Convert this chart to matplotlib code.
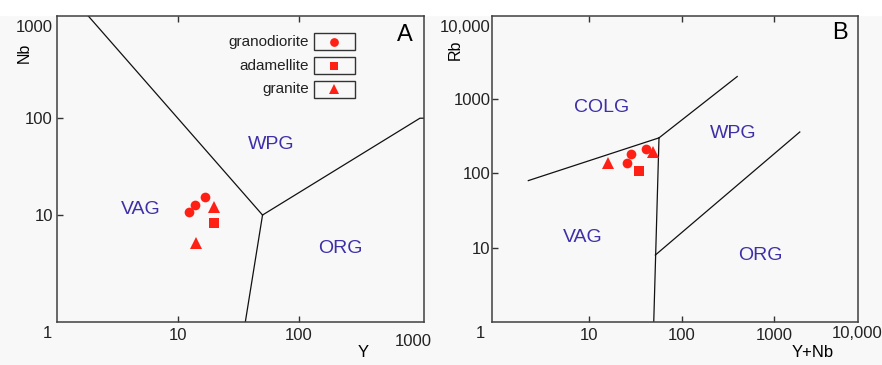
import matplotlib
matplotlib.use('Agg')
import matplotlib.pyplot as plt
from matplotlib.patches import Rectangle
from matplotlib.ticker import NullLocator

plt.rcParams['font.family'] = ['Liberation Sans', 'DejaVu Sans']

# Panel A: Nb vs Y
a_granodiorite_y = [12.3, 13.9, 16.6]
a_granodiorite_nb = [10.7, 12.7, 15.5]
a_adamellite_y = [20.0]
a_adamellite_nb = [8.3]
a_granite_y = [20.0, 14.1]
a_granite_nb = [12.1, 5.1]

# Panel B: Rb vs Y+Nb
b_granodiorite_ynb = [25.8, 28.5, 41.3]
b_granodiorite_rb = [140, 181, 211]
b_adamellite_ynb = [35]
b_adamellite_rb = [108]
b_granite_ynb = [49.2, 15.9]
b_granite_rb = [194, 137]

# field boundaries
a_lines = [
    ([1.8, 50], [1150, 10]),
    ([50, 1000, 1080], [10, 100, 100]),
    ([50, 36], [10, 0.78]),
]
b_lines = [
    ([2.2, 57], [80, 300]),
    ([57, 400], [300, 2000]),
    ([57, 50], [300, 1]),
    ([52, 1900], [8, 360]),
]

a_fields = [('VAG', 4.9, 11.3), ('WPG', 58.7, 53), ('ORG', 222, 4.56)]
b_fields = [('COLG', 13.8, 757), ('WPG', 360, 339), ('VAG', 8.6, 13.6), ('ORG', 706, 7.8)]

rock_types = ['granodiorite', 'adamellite', 'granite']
MARKERS = {'granodiorite': ('o', 7), 'adamellite': ('s', 6.5), 'granite': ('^', 8)}
RED = '#fe2015'
FIELD_COL = '#3d2fa8'
BG = '#f8f8f8'

fig = plt.figure(figsize=(8.82, 3.65), dpi=100, facecolor=BG)
fig.patches.append(Rectangle((0, 1 - 15 / 365), 1, 15 / 365, transform=fig.transFigure,
                             color='white', zorder=-1))

axA = fig.add_axes([0.0646, 0.117, 0.4161, 0.8405])
axB = fig.add_axes([0.5578, 0.117, 0.4150, 0.8405])


def style_axes(ax, xlim, ylim, xticks, yticks, ypad):
    ax.set_facecolor(BG)
    ax.set_xscale('log')
    ax.set_yscale('log')
    ax.set_xlim(*xlim)
    ax.set_ylim(*ylim)
    ax.set_xticks(xticks)
    ax.set_xticklabels([f'{t:g}' for t in xticks])
    ax.set_yticks(yticks)
    ax.set_yticklabels([f'{t:g}' for t in yticks])
    ax.xaxis.set_minor_locator(NullLocator())
    ax.yaxis.set_minor_locator(NullLocator())
    ax.tick_params(direction='in', length=4.5, width=1, color='#333333',
                   top=True, right=False, labelsize=12, labelcolor='#222222')
    ax.tick_params(axis='x', pad=4)
    ax.tick_params(axis='y', pad=ypad)
    for sp in ax.spines.values():
        sp.set_color('#404040')
        sp.set_linewidth(1.1)


def draw_points(ax, data):
    for name, xs, ys in data:
        m, ms = MARKERS[name]
        ax.plot(xs, ys, linestyle='none', marker=m, markersize=ms,
                color=RED, markeredgewidth=0, zorder=3)


# ---- Panel A
style_axes(axA, (1, 1080), (0.78, 1150), [10, 100], [10, 100], 3)
for xs, ys in a_lines:
    axA.plot(xs, ys, color='#111111', lw=0.9)
for name, x, y in a_fields:
    axA.text(x, y, name, color=FIELD_COL, fontsize=14, ha='center', va='center')
draw_points(axA, [('granodiorite', a_granodiorite_y, a_granodiorite_nb),
                  ('adamellite', a_adamellite_y, a_adamellite_nb),
                  ('granite', a_granite_y, a_granite_nb)])
axA.text(-0.027, -0.035, '1', transform=axA.transAxes, fontsize=12, ha='center', va='center', color='#222222')
axA.text(0.970, -0.061, '1000', transform=axA.transAxes, fontsize=12, ha='center', va='center', color='#222222')
axA.text(-0.012, 0.960, '1000', transform=axA.transAxes, fontsize=12, ha='right', va='center', color='#222222')
axA.text(0.834, -0.100, 'Y', transform=axA.transAxes, fontsize=12, ha='center', va='center')
axA.text(-0.090, 0.878, 'Nb', transform=axA.transAxes, fontsize=11.5, ha='center', va='center', rotation=90)
axA.text(0.948, 0.936, 'A', transform=axA.transAxes, fontsize=17, ha='center', va='center')

# legend boxes
leg_y = [0.914, 0.837, 0.759]
for name, yy in zip(rock_types, leg_y):
    axA.text(0.687, yy, name, transform=axA.transAxes, fontsize=11, ha='right', va='center', color='#222222')
    axA.add_patch(Rectangle((0.700, yy - 0.0275), 0.112, 0.055, transform=axA.transAxes,
                            fill=False, edgecolor='#333333', lw=1))
    m, ms = MARKERS[name]
    axA.plot([0.755], [yy], transform=axA.transAxes, marker=m, markersize=ms * 0.9,
             color=RED, markeredgewidth=0, linestyle='none')

# ---- Panel B
style_axes(axB, (0.89, 8100), (1, 13200), [10, 100, 1000], [10, 100, 1000], 1)
for xs, ys in b_lines:
    axB.plot(xs, ys, color='#111111', lw=0.9)
for name, x, y in b_fields:
    axB.text(x, y, name, color=FIELD_COL, fontsize=14, ha='center', va='center')
draw_points(axB, [('granodiorite', b_granodiorite_ynb, b_granodiorite_rb),
                  ('adamellite', b_adamellite_ynb, b_adamellite_rb),
                  ('granite', b_granite_ynb, b_granite_rb)])
axB.text(-0.033, -0.035, '1', transform=axB.transAxes, fontsize=12, ha='center', va='center', color='#222222')
axB.text(0.997, -0.035, '10,000', transform=axB.transAxes, fontsize=12, ha='center', va='center', color='#222222')
axB.text(-0.005, 0.962, '10,000', transform=axB.transAxes, fontsize=12, ha='right', va='center', color='#222222')
axB.text(0.877, -0.100, 'Y+Nb', transform=axB.transAxes, fontsize=12, ha='center', va='center')
axB.text(-0.101, 0.888, 'Rb', transform=axB.transAxes, fontsize=11.5, ha='center', va='center', rotation=90)
axB.text(0.951, 0.943, 'B', transform=axB.transAxes, fontsize=17, ha='center', va='center')

plt.savefig('out.png', dpi=100, facecolor=fig.get_facecolor())
